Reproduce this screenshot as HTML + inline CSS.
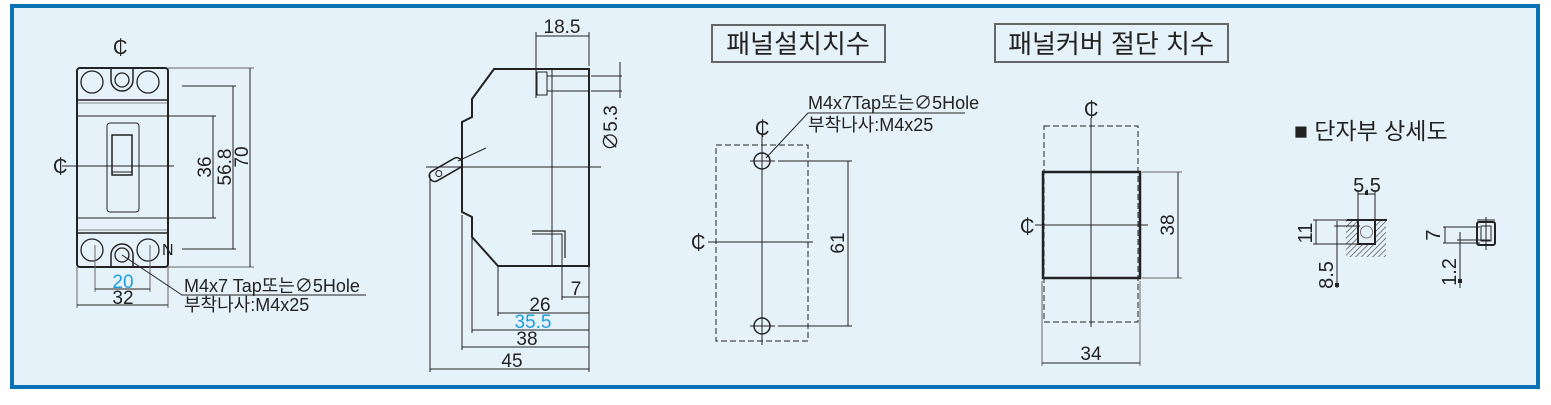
<!DOCTYPE html>
<html><head><meta charset="utf-8"><style>
html,body{margin:0;padding:0;background:#fff;}
svg{display:block;}
text{font-family:"Liberation Sans","Noto Sans CJK KR",sans-serif;fill:#222;}
</style></head><body>
<svg width="1551" height="405" viewBox="0 0 1551 405" xmlns="http://www.w3.org/2000/svg">
<defs>
<pattern id="h" width="4" height="4" patternUnits="userSpaceOnUse" patternTransform="rotate(45)">
<line x1="0" y1="0" x2="0" y2="4" stroke="#333" stroke-width="1.2"/></pattern>
</defs>
<rect x="0" y="0" width="1551" height="405" fill="#fff"/>
<rect x="12" y="6" width="1526" height="381" fill="#e6f2f9" stroke="#0a72b5" stroke-width="4"/>

<g stroke="#222" fill="none" stroke-width="1">
<rect x="77" y="68" width="91" height="199" rx="3" stroke-width="2"/>
<line x1="78" y1="100" x2="167" y2="100" stroke-width="1.5"/>
<line x1="78" y1="233" x2="167" y2="233" stroke-width="1.5"/>
<line x1="78" y1="103" x2="167" y2="103" stroke="#888"/>
<line x1="78" y1="230" x2="167" y2="230" stroke="#888"/>
<line x1="78" y1="116" x2="216" y2="116"/>
<line x1="78" y1="218" x2="216" y2="218"/>
<rect x="107" y="123" width="32" height="89" rx="3"/>
<rect x="112" y="135" width="20" height="40" stroke-width="1.5"/>
<line x1="112" y1="172" x2="132" y2="172"/>
<circle cx="92" cy="82" r="11" stroke-width="1.3"/>
<circle cx="148" cy="82" r="11" stroke-width="1.3"/>
<circle cx="122" cy="80" r="7" stroke-width="1.3"/>
<path d="M111 69 V80 A11 11 0 0 0 133 80 V69" stroke-width="1.5"/>
<circle cx="92" cy="250" r="11" stroke-width="1.3"/>
<circle cx="148" cy="250" r="11" stroke-width="1.3"/>
<circle cx="122" cy="255" r="7" stroke-width="1.3"/>
<path d="M111 266 V255 A11 11 0 0 1 133 255 V266" stroke-width="1.5"/>
<line x1="62" y1="166" x2="174" y2="166"/>
<line x1="182" y1="86" x2="236" y2="86"/>
<line x1="182" y1="249" x2="236" y2="249"/>
<line x1="168" y1="68" x2="254" y2="68" stroke="#666"/>
<line x1="168" y1="267" x2="254" y2="267" stroke="#666"/>
<line x1="213" y1="116" x2="213" y2="218"/>
<line x1="233" y1="86" x2="233" y2="249"/>
<line x1="250" y1="68" x2="250" y2="267"/>
<line x1="95" y1="245" x2="95" y2="292" stroke="#666"/>
<line x1="150" y1="245" x2="150" y2="292" stroke="#666"/>
<line x1="95" y1="289" x2="150" y2="289"/>
<line x1="77" y1="267" x2="77" y2="308" stroke="#666"/>
<line x1="168" y1="267" x2="168" y2="308" stroke="#666"/>
<line x1="77" y1="305" x2="168" y2="305"/>
<polyline points="122,255 182,295 366,295"/>

<polygon points="494,69 589,69 589,266 498,266 472,237 472,217 462,212 462,122 472,117 472,99" stroke-width="2"/>
<line x1="552" y1="69" x2="552" y2="266"/>
<rect x="537" y="72" width="10" height="23"/>
<line x1="591" y1="76" x2="622" y2="76"/>
<line x1="591" y1="91" x2="622" y2="91"/>
<line x1="547" y1="76" x2="589" y2="76"/>
<line x1="547" y1="91" x2="589" y2="91"/>
<line x1="620" y1="62" x2="620" y2="98"/>
<line x1="426" y1="167" x2="601" y2="167"/>
<g transform="rotate(-30 446 170)"><rect x="428" y="164" width="36" height="11" rx="5" stroke-width="1.5"/><circle cx="438" cy="169.5" r="3"/></g>
<line x1="458" y1="161" x2="486" y2="148"/>
<polyline points="532,231 565,231 565,258" stroke-width="1.2"/>
<polyline points="532,234 562,234 562,258" stroke-width="1"/>
<line x1="536" y1="32" x2="536" y2="98"/>
<line x1="589" y1="32" x2="589" y2="66"/>
<line x1="536" y1="36" x2="589" y2="36"/>
<line x1="430" y1="175" x2="430" y2="372"/>
<line x1="462" y1="215" x2="462" y2="350"/>
<line x1="472" y1="237" x2="472" y2="333"/>
<line x1="498" y1="266" x2="498" y2="316"/>
<line x1="562" y1="250" x2="562" y2="300"/>
<line x1="589" y1="266" x2="589" y2="372"/>
<line x1="562" y1="297" x2="589" y2="297"/>
<line x1="498" y1="313" x2="589" y2="313"/>
<line x1="472" y1="330" x2="589" y2="330"/>
<line x1="462" y1="347" x2="589" y2="347"/>
<line x1="430" y1="369" x2="589" y2="369"/>

<rect x="712" y="25" width="173" height="37" stroke="#666" stroke-width="2"/>
<rect x="716" y="145" width="92" height="196" stroke-dasharray="6,3"/>
<line x1="762" y1="133" x2="762" y2="345"/>
<line x1="708" y1="242" x2="813" y2="242"/>
<circle cx="762" cy="161" r="8" stroke-width="1.5"/>
<circle cx="762" cy="326" r="8" stroke-width="1.5"/>
<line x1="750" y1="161" x2="775" y2="161"/>
<line x1="750" y1="326" x2="775" y2="326"/>
<line x1="778" y1="161" x2="852" y2="161"/>
<line x1="778" y1="326" x2="852" y2="326"/>
<line x1="848" y1="161" x2="848" y2="326"/>
<polyline points="766,158 808,113 965,113"/>

<rect x="995" y="24" width="233" height="38" stroke="#666" stroke-width="2"/>
<rect x="1044" y="126" width="94" height="196" stroke-dasharray="6,3"/>
<rect x="1043" y="172" width="97" height="106" stroke-width="2.5"/>
<line x1="1091" y1="118" x2="1091" y2="327"/>
<line x1="1035" y1="225" x2="1148" y2="225"/>
<line x1="1142" y1="172" x2="1182" y2="172" stroke="#666"/>
<line x1="1142" y1="278" x2="1182" y2="278" stroke="#666"/>
<line x1="1178" y1="172" x2="1178" y2="278"/>
<line x1="1042" y1="281" x2="1042" y2="366" stroke="#666"/>
<line x1="1140" y1="281" x2="1140" y2="366" stroke="#666"/>
<line x1="1042" y1="363" x2="1140" y2="363"/>

<rect x="1346" y="220" width="40" height="37" fill="url(#h)" stroke="none"/>
<rect x="1358" y="220" width="17" height="24" fill="#e6f2f9" stroke-width="2"/>
<circle cx="1366.5" cy="232" r="6" stroke="#777"/>
<line x1="1347" y1="220" x2="1387" y2="220" stroke-width="2"/>
<line x1="1358" y1="190" x2="1358" y2="220"/>
<line x1="1375" y1="190" x2="1375" y2="220"/>
<line x1="1358" y1="194" x2="1375" y2="194"/>
<line x1="1313" y1="220" x2="1353" y2="220"/>
<line x1="1313" y1="244" x2="1360" y2="244"/>
<line x1="1316" y1="220" x2="1316" y2="244"/>
<line x1="1334" y1="226" x2="1360" y2="226"/>
<line x1="1337" y1="221" x2="1337" y2="288"/>
<rect x="1477" y="222" width="18" height="23" rx="2" stroke-width="2"/>
<rect x="1481" y="226" width="10" height="15"/>
<line x1="1477" y1="220" x2="1495" y2="220"/>
<line x1="1486" y1="217" x2="1486" y2="250"/>
<line x1="1443" y1="227" x2="1480" y2="227"/>
<line x1="1443" y1="243" x2="1480" y2="243"/>
<line x1="1445" y1="227" x2="1445" y2="243"/>
<line x1="1457" y1="240" x2="1490" y2="240"/>
<line x1="1460" y1="232" x2="1460" y2="288"/>
</g>
<rect x="1335" y="283" width="4" height="4" fill="#222"/>
<rect x="1458" y="279" width="4" height="4" fill="#222"/>
<rect x="1365" y="191" width="3" height="4" fill="#222"/>

<g font-size="19">
<text x="113" y="54" font-size="20">₵</text>
<text x="53" y="173" font-size="20">₵</text>
<text x="162" y="255" font-size="16">N</text>
<text x="211" y="167" transform="rotate(-90 211 167)" text-anchor="middle">36</text>
<text x="231" y="167" transform="rotate(-90 231 167)" text-anchor="middle">56.8</text>
<text x="248" y="157" transform="rotate(-90 248 157)" text-anchor="middle">70</text>
<text x="123" y="288" text-anchor="middle" style="fill:#1e9ee0">20</text>
<text x="123" y="304" text-anchor="middle">32</text>
<text x="184" y="292" font-size="18">M4x7  Tap또는∅5Hole</text>
<text x="184" y="311" font-size="18">부착나사:M4x25</text>

<text x="562" y="33" text-anchor="middle">18.5</text>
<text x="617" y="128" transform="rotate(-90 617 128)" text-anchor="middle">∅5.3</text>
<text x="576" y="295" text-anchor="middle">7</text>
<text x="540" y="311" text-anchor="middle">26</text>
<text x="533" y="328" text-anchor="middle" style="fill:#1e9ee0">35.5</text>
<text x="527" y="345" text-anchor="middle">38</text>
<text x="512" y="367" text-anchor="middle">45</text>

<text x="798" y="53" font-size="26" text-anchor="middle">패널설치치수</text>
<text x="808" y="109" font-size="18">M4x7Tap또는∅5Hole</text>
<text x="808" y="131" font-size="18">부착나사:M4x25</text>
<text x="755" y="135" font-size="20">₵</text>
<text x="691" y="249" font-size="20">₵</text>
<text x="844" y="243" transform="rotate(-90 844 243)" text-anchor="middle">61</text>

<text x="1111" y="53" font-size="26" text-anchor="middle">패널커버 절단 치수</text>
<text x="1084" y="116" font-size="20">₵</text>
<text x="1020" y="233" font-size="20">₵</text>
<text x="1174" y="225" transform="rotate(-90 1174 225)" text-anchor="middle">38</text>
<text x="1091" y="360" text-anchor="middle">34</text>

<text x="1294" y="139" font-size="23">■ 단자부 상세도</text>
<text x="1367" y="192" text-anchor="middle" font-size="20">5.5</text>
<text x="1312" y="233" transform="rotate(-90 1312 233)" text-anchor="middle" font-size="20">11</text>
<text x="1333" y="275" transform="rotate(-90 1333 275)" text-anchor="middle" font-size="20">8.5</text>
<text x="1440" y="235" transform="rotate(-90 1440 235)" text-anchor="middle" font-size="20">7</text>
<text x="1456" y="272" transform="rotate(-90 1456 272)" text-anchor="middle" font-size="20">1.2</text>
</g>
</svg>
</body></html>
